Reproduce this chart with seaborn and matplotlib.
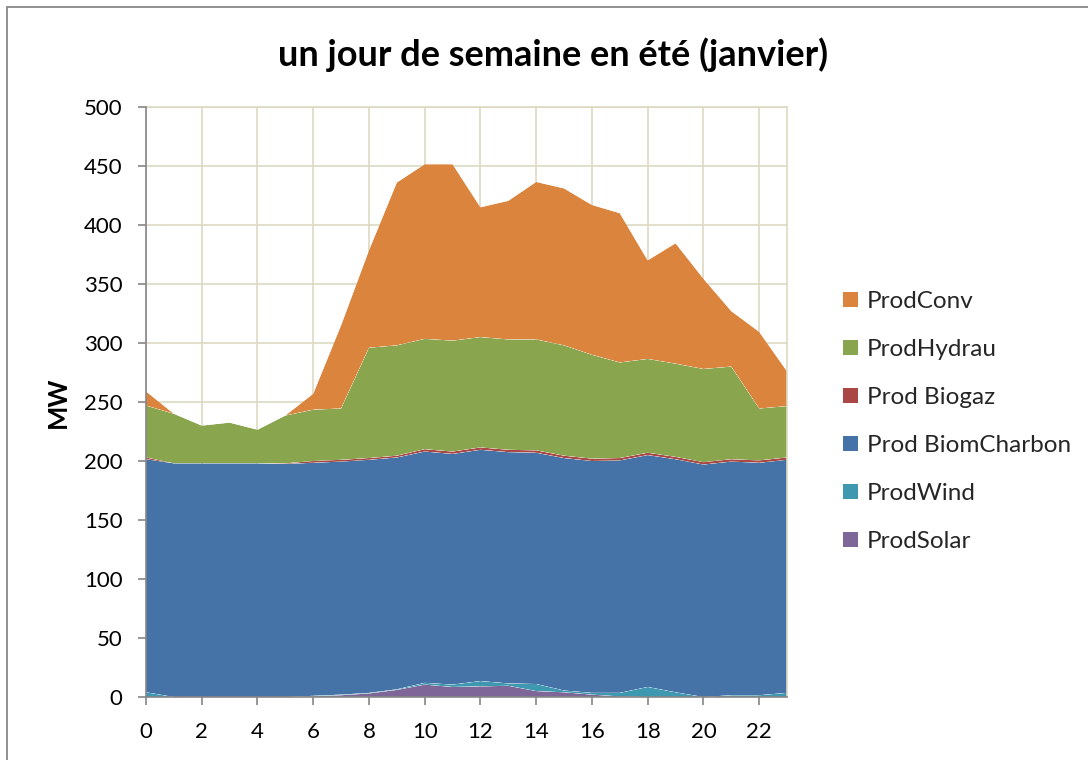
import numpy as np
import pandas as pd
import matplotlib
matplotlib.use("Agg")
import matplotlib.pyplot as plt
from matplotlib.patches import Patch, Rectangle
import seaborn as sns
import seaborn.objects as so

# Hourly production on a summer weekday (MW), one list per source
hours = list(range(24))
prod_solar = [0, 0, 0, 0, 0, 0, 0.5, 1.5, 3, 6, 10.5, 8.5,
              9, 9.5, 5, 4, 2, 0.5, 0, 0, 0, 0, 0, 0]
prod_wind = [4, 0, 0, 0, 0, 0, 0.5, 0.5, 0.5, 0.5, 1.5, 2,
             4.5, 2, 6, 1.5, 1.5, 3, 8.5, 4, 0, 1.5, 1.5, 3.5]
prod_biomcharbon = [197.5, 198, 198, 198, 198, 197.5, 197.5, 197.5, 197.5, 196.5, 196, 195.5,
                    196, 196, 196, 197, 196.5, 197, 196.5, 197.5, 197, 198, 197, 197.5]
prod_biogaz = [1.5, 0, 0, 0, 0, 0.5, 1.5, 1.5, 1.5, 1.5, 2, 2,
               2, 2, 2, 2, 2, 2, 2, 2, 2, 2, 2, 2]
prod_hydrau = [44, 42, 32, 34.5, 28.5, 40.5, 43.5, 43.5, 93.5, 93.5, 93.5, 94,
               93.5, 93.5, 94, 93.5, 88, 81, 79.5, 79, 79, 78.5, 44, 43.5]
prod_conv = [12, 0, 0, 0, 0, 0, 13.5, 70.5, 82.5, 138, 148, 149.5,
             110, 117.5, 133.5, 133, 127, 126.5, 83.5, 102, 76.5, 47, 65, 29.5]

series_names = ["ProdSolar", "ProdWind", "Prod BiomCharbon", "Prod Biogaz", "ProdHydrau", "ProdConv"]
series_values = [prod_solar, prod_wind, prod_biomcharbon, prod_biogaz, prod_hydrau, prod_conv]
series_colors = ["#7F6699", "#3E98B0", "#4573A7", "#AA4744", "#89A54E", "#DB843D"]

title = "un jour de semaine en été (janvier)"
y_label = "MW"
x_ticks = list(range(0, 23, 2))
y_ticks = list(range(0, 501, 50))

df = pd.concat(
    [pd.DataFrame({"heure": hours, "source": name, "MW": vals})
     for name, vals in zip(series_names, series_values)],
    ignore_index=True,
)

sns.set_theme(style="white")
plt.rcParams["font.family"] = ["Lato", "DejaVu Sans"]

fig = plt.figure(figsize=(10.88, 7.6), dpi=100)
W, H = 1088, 760
left, right, top, bottom = 146, 787, 107, 697
ax = fig.add_axes([left / W, (H - bottom) / H, (right - left) / W, (bottom - top) / H])

grid_color = "#DDD9C3"
axis_color = "#868686"

(
    so.Plot(df, x="heure", y="MW", color="source")
    .add(so.Area(alpha=1, edgewidth=0), so.Stack())
    .scale(color=dict(zip(series_names, series_colors)))
    .on(ax)
    .plot()
)
# drop the automatic figure legend; a custom one is drawn below
fig.legends.clear()

ax.set_xlim(0, 23)
ax.set_ylim(0, 500)
ax.set_xticks(x_ticks)
ax.set_yticks(y_ticks)
ax.set_xticklabels([str(t) for t in x_ticks])
ax.set_yticklabels([str(t) for t in y_ticks])
ax.set_xlabel("")
ax.set_ylabel(y_label, fontsize=18.5, fontweight="bold", color="black", labelpad=10)

ax.set_axisbelow(True)
ax.grid(True, color=grid_color, linewidth=1.2)
ax.set_facecolor("white")
for side in ["top", "right"]:
    ax.spines[side].set_color(grid_color)
    ax.spines[side].set_linewidth(1.2)
for side in ["left", "bottom"]:
    ax.spines[side].set_color(axis_color)
    ax.spines[side].set_linewidth(1.2)
    ax.spines[side].set_zorder(5)

ax.tick_params(axis="both", which="major", direction="out", length=6, width=1.2,
               color=axis_color, labelsize=16, labelcolor="black")
ax.tick_params(axis="y", pad=11)
ax.tick_params(axis="x", pad=12, bottom=True)
ax.tick_params(axis="y", left=True)

fig.text(553 / W, 1 - 55 / H, title, ha="center", va="center",
         fontsize=26, fontweight="bold", color="black")

handles = [Patch(facecolor=c, edgecolor="none", label=n)
           for n, c in zip(series_names, series_colors)][::-1]
fig.legend(handles=handles, loc="upper left", bbox_to_anchor=(843 / W, 1 - 291 / H),
           frameon=False, fontsize=17.5, handlelength=0.6, handleheight=0.6,
           handletextpad=0.38, labelspacing=1.11, borderaxespad=0, borderpad=0)

# outer chart frame
fig.patches.append(Rectangle((7 / W, -0.01), 1.02, 1 - 7 / H + 0.01, transform=fig.transFigure,
                             fill=False, edgecolor="#888888", linewidth=1.3))

fig.savefig("out.png", dpi=100)
